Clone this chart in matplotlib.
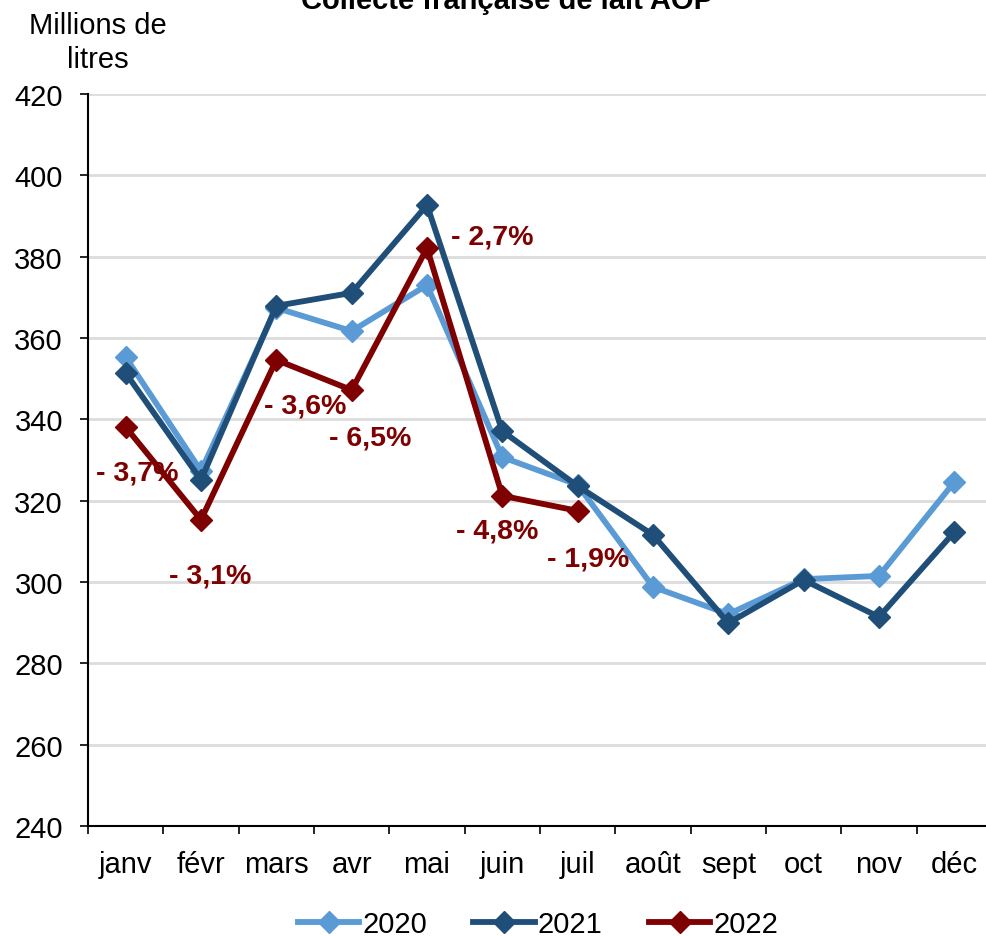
import matplotlib

matplotlib.use('Agg')
import matplotlib.pyplot as plt
import numpy as np

plt.rcParams['font.family'] = ['Liberation Sans', 'DejaVu Sans']

months = ['janv', 'févr', 'mars', 'avr', 'mai', 'juin', 'juil', 'août', 'sept', 'oct', 'nov', 'déc']
collecte_2020 = [355.3, 327.3, 367.4, 361.7, 373.0, 330.7, 323.9, 298.8, 292.1, 300.7, 301.5, 324.6]
collecte_2021 = [351.4, 325.1, 367.9, 371.1, 392.7, 337.1, 323.6, 311.6, 289.9, 300.5, 291.4, 312.3]
collecte_2022 = [338.1, 315.3, 354.6, 347.2, 382.1, 321.2, 317.5]
evol_labels = ['- 3,7%', '- 3,1%', '- 3,6%', '- 6,5%', '- 2,7%', '- 4,8%', '- 1,9%']
# offsets of the % labels from the 2022 points, in pixels
label_offsets = [(12, -45), (9, -56), (29, -46), (19, -47), (65, 12), (-5, -35), (10, -48)]

W, H = 987, 937
fs = 21
fig = plt.figure(figsize=(W / 100, H / 100), dpi=100)
ax = fig.add_axes([88 / W, (H - 827) / H, (992 - 88) / W, (827 - 95) / H])

x = np.arange(len(months))
styles = [
    ('2020', collecte_2020, '#5B9BD5'),
    ('2021', collecte_2021, '#1F4E79'),
    ('2022', collecte_2022, '#7F0000'),
]
for i, (name, vals, col) in enumerate(styles):
    ax.plot(x[:len(vals)], vals, color=col, lw=4.2, marker='D', ms=11.5,
            mfc=col, mec=col, label=name, zorder=3 + i)

for i, (txt, off) in enumerate(zip(evol_labels, label_offsets)):
    ax.annotate(txt, (x[i], collecte_2022[i]), xytext=off, textcoords='offset pixels',
                ha='center', va='center', fontsize=20.5, fontweight='bold',
                color='#7F0000', zorder=10)

ax.set_ylim(240, 420)
ax.set_yticks(np.arange(240, 421, 20))
ax.set_xlim(-0.5, len(months) - 0.5)
ax.set_xticks(np.arange(-0.5, len(months), 1))
ax.set_xticklabels([])
ax.set_xticks(x, minor=True)
ax.set_xticklabels(months, minor=True)
ax.tick_params(axis='x', which='major', length=6, width=1.2, direction='out', color='black')
ax.tick_params(axis='x', which='minor', length=0, pad=17, labelsize=fs)
ax.tick_params(axis='y', length=6, width=1.2, direction='out', pad=12, labelsize=fs)

ax.grid(axis='y', color='#DCDCDC', lw=2)
ax.set_axisbelow(True)
for s in ['top', 'right']:
    ax.spines[s].set_visible(False)
for s in ['left', 'bottom']:
    ax.spines[s].set_linewidth(1.5)
    ax.spines[s].set_color('black')
    ax.spines[s].set_zorder(2)

fig.text(98 / W, 1 - 43 / H, 'Millions de\nlitres', ha='center', va='center',
         fontsize=fs, linespacing=1.3, multialignment='center')
fig.text(507 / W, 1 - 9 / H, 'Collecte française de lait AOP', ha='center', va='baseline',
         fontsize=fs, fontweight='bold')

leg = fig.legend(loc='center', bbox_to_anchor=(538 / W, 1 - 925 / H), ncol=3, frameon=False,
                 fontsize=fs, handlelength=2.1, handletextpad=0.1, columnspacing=1.6,
                 borderpad=0)

fig.savefig('out.png', dpi=100)
